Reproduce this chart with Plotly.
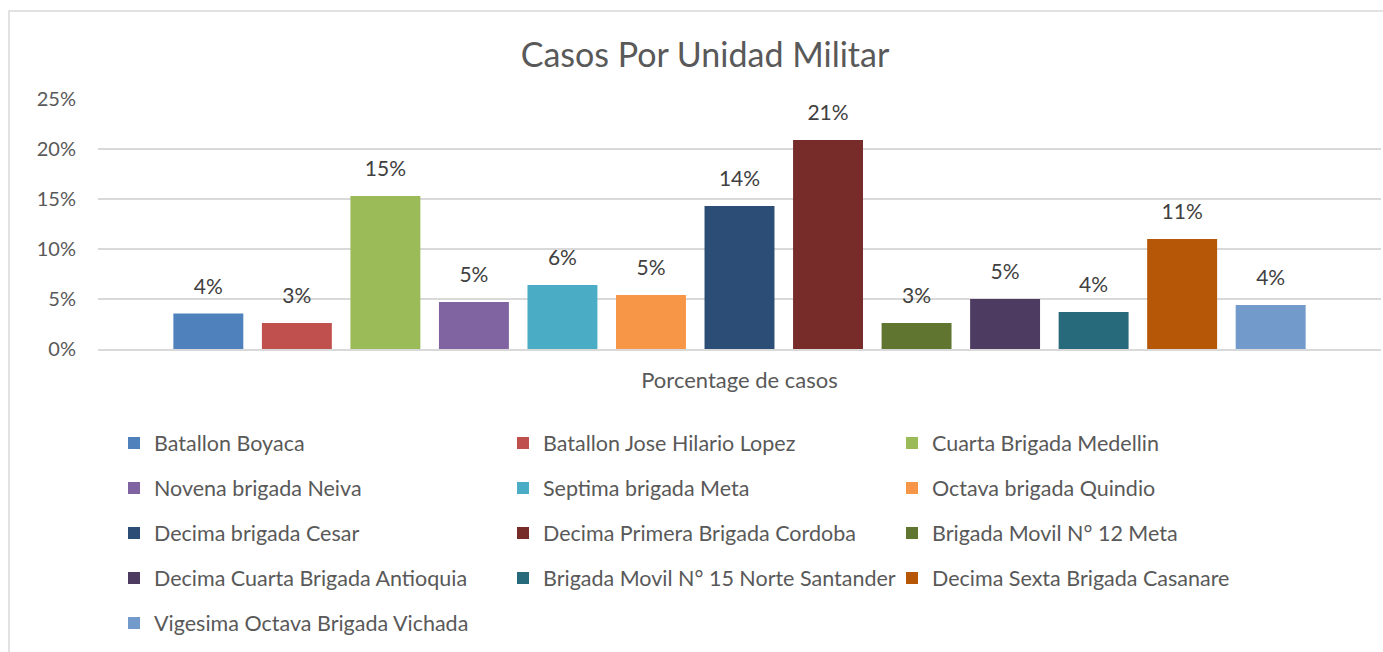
import plotly.graph_objects as go

units = [
    "Batallon Boyaca", "Batallon Jose Hilario Lopez", "Cuarta Brigada Medellin",
    "Novena brigada Neiva", "Septima brigada Meta", "Octava brigada Quindio",
    "Decima brigada Cesar", "Decima Primera Brigada Cordoba", "Brigada Movil N° 12 Meta",
    "Decima Cuarta Brigada Antioquia", "Brigada Movil N° 15 Norte Santander",
    "Decima Sexta Brigada Casanare", "Vigesima Octava Brigada Vichada",
]
values = [0.0355, 0.026, 0.153, 0.047, 0.064, 0.054, 0.143, 0.209, 0.026, 0.050, 0.037, 0.110, 0.044]
colors = ["#4F81BD", "#C0504D", "#9BBB59", "#8064A2", "#4BACC6", "#F79646", "#2C4D75",
          "#772C2A", "#5F7530", "#4D3B62", "#276A7C", "#B65708", "#729ACA"]
category = "Porcentage de casos"
yticks = [0, 0.05, 0.10, 0.15, 0.20, 0.25]

W, H = 1383, 652
ML, MR, MT, MB = 98, 2, 99, 303
FONT = "Lato"
TXT = "#595959"

fig = go.Figure()
n_rows = (len(units) + 2) // 3
for i, (u, v, c) in enumerate(zip(units, values, colors)):
    row = i // 3
    fig.add_trace(go.Bar(
        x=[category], y=[v], name=u, marker=dict(color=c, line=dict(width=0)),
        legend="legend" if row == 0 else f"legend{row + 1}",
        offsetgroup=str(i), alignmentgroup="a",
    ))
for i, (u, v) in enumerate(zip(units, values)):
    fig.add_trace(go.Scatter(
        x=[category], y=[v], mode="markers+text", showlegend=False,
        text=[f"{round(v * 100 + 1e-9):.0f}%"], textposition="top center",
        marker=dict(size=22, color="rgba(0,0,0,0)"),
        textfont=dict(family=FONT, size=21, color="#404040"),
        offsetgroup=str(i), alignmentgroup="a", hoverinfo="skip", cliponaxis=False,
    ))

pw = W - ML - MR
ph = H - MT - MB
legend_rows_y = [443, 488, 533, 578, 623]
legends = {}
for r in range(n_rows):
    key = "legend" if r == 0 else f"legend{r + 1}"
    legends[key] = dict(
        orientation="h", xref="container", yref="container",
        x=114 / W, y=1 - legend_rows_y[r] / H, xanchor="left", yanchor="middle",
        entrywidth=344, entrywidthmode="pixels",
        font=dict(family=FONT, size=21.5, color=TXT), bgcolor="rgba(0,0,0,0)",
        traceorder="normal",
    )

fig.update_layout(
    width=W, height=H, margin=dict(l=ML, r=MR, t=MT, b=MB, autoexpand=False),
    paper_bgcolor="white", plot_bgcolor="white",
    barmode="group", bargap=0.103, bargroupgap=0.21,
    scattermode="group", scattergap=0.103,
    title=dict(text="Casos Por Unidad Militar", x=705 / W, xanchor="center",
               y=1 - 55 / H, yanchor="middle", yref="container",
               font=dict(family=FONT, size=34, color=TXT)),
    xaxis=dict(range=[-0.5, 0.5], showgrid=False, showline=True, linecolor="#D9D9D9",
               linewidth=1.5, ticks="", ticklabelstandoff=11,
               tickfont=dict(family=FONT, size=22, color=TXT)),
    yaxis=dict(range=[0, 0.25], tickvals=yticks, tickformat=".0%", showgrid=True,
               gridcolor="#D9D9D9", gridwidth=1.5, zeroline=False, showline=False,
               ticks="", ticklabelstandoff=21,
               tickfont=dict(family=FONT, size=20, color=TXT)),
    hovermode=False,
    shapes=[dict(type="rect", xref="paper", yref="paper",
                 x0=(9 - ML) / pw, x1=(W + 10 - ML) / pw,
                 y0=-(H + 10 - MT - ph) / ph, y1=(H - 11 - MB) / ph,
                 line=dict(color="#D9D9D9", width=1.5), fillcolor="rgba(0,0,0,0)",
                 layer="below")],
    **legends,
)

fig.write_html("out.html", config={"displayModeBar": False},
               post_script="document.body.style.margin='0px';")
